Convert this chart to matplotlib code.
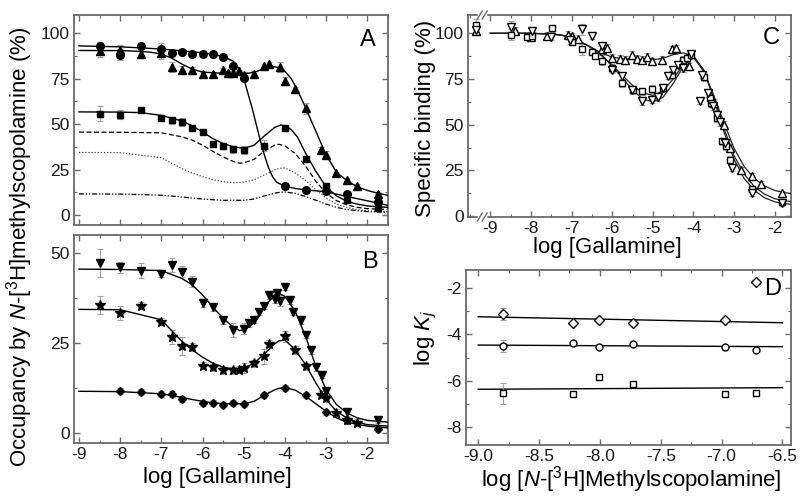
import matplotlib
matplotlib.use('Agg')
import matplotlib.pyplot as plt
import matplotlib.transforms as mtransforms
from matplotlib.ticker import MultipleLocator, FormatStrFormatter

plt.rcParams['font.family'] = ['Liberation Sans', 'DejaVu Sans']
plt.rcParams['mathtext.fontset'] = 'custom'
plt.rcParams['mathtext.rm'] = 'Liberation Sans'
plt.rcParams['mathtext.it'] = 'Liberation Sans:italic'
plt.rcParams['axes.unicode_minus'] = False

# ---------------- panel A: markers ----------------
a_circ_x = [-8.5, -8, -7.5, -7, -6.75, -6.5, -6.25, -6, -5.75, -5.5, -5.25, -5, -4, -3.5, -3, -2.5, -1.75]
a_circ_y = [92.9, 88.1, 92.9, 91.4, 89.0, 89.4, 88.3, 88.7, 88.3, 86.8, 81.9, 75.5, 15.9, 13.7, 13.4, 11.4, 7.3]
a_circ_e = [2, 3, 1.5, 3, 1.5, 1, 1, 1, 1, 1, 1.5, 2, 1.5, 1.5, 2, 1, 1]

a_tri_x = [-8.5, -8, -7.5, -7, -6.75, -6.5, -6.25, -6, -5.75, -5.5, -5.38, -5.25, -5.12, -5, -4.75,
           -4.5, -4.38, -4.12, -4, -3.75, -3.5, -3.12, -3, -2.75, -2.5, -2.25, -1.75]
a_tri_y = [90.1, 90.5, 88.3, 89.0, 81.4, 80.0, 79.5, 77.7, 77.7, 79.5, 78.2, 78.0, 79.0, 76.8, 77.3,
           81.9, 83.2, 81.4, 73.7, 69.1, 58.6, 35.7, 33.0, 22.9, 19.2, 15.9, 11.5]
a_tri_e = [3, 3, 2, 3, 3, 2, 2, 1, 1, 1.5, 1, 1, 1, 2, 2, 1, 1, 2.5, 2, 1.5, 3, 1.5, 2, 1, 1, 1, 1]

a_sq_x = [-8.5, -8, -7.5, -7, -6.75, -6.5, -6.25, -6, -5.75, -5.5, -5.25, -5, -4.5, -4, -3.5, -3, -2.5, -1.75]
a_sq_y = [55.8, 55.2, 58.0, 53.6, 52.1, 51.2, 47.9, 45.7, 38.9, 38.0, 36.1, 35.7, 38.1, 47.6, 30.6, 15.9, 8.2, 3.7]
a_sq_e = [4, 2.5, 1, 1, 2, 2, 1, 1, 1, 1.5, 2, 2, 3, 1, 1.5, 1.5, 1, 1]

# ---------------- panel A: fitted curves ----------------
a_circ_fit_x = [-9, -8, -7, -6.5, -6, -5.75, -5.5, -5.25, -5.1, -5, -4.9, -4.8, -4.7, -4.6, -4.5, -4.4,
                -4.3, -4.2, -4, -3.75, -3.5, -3, -2.5, -2, -1.5]
a_circ_fit_y = [93, 92.5, 91.3, 90.3, 89.2, 88.4, 87.2, 84.5, 80, 75, 67, 59, 50, 41, 33, 26,
                21, 18, 15.8, 14.6, 13.8, 12.8, 10.2, 7.8, 5.3]

a_tri_fit_x = [-9, -8, -7.5, -7.25, -7, -6.75, -6.5, -6.25, -6, -5.5, -5, -4.75, -4.5, -4.25, -4.1, -4,
               -3.85, -3.75, -3.6, -3.5, -3.25, -3, -2.75, -2.5, -2.25, -2, -1.75, -1.5]
a_tri_fit_y = [90.5, 90.4, 90, 89.5, 88.5, 86.3, 83, 80.2, 78.6, 77.9, 77.6, 78.5, 80.5, 81.5, 80.8, 79,
               75, 71, 64, 59, 46, 33, 23.5, 19, 15.5, 13.5, 12, 10.8]

a_sq_fit_x = [-9, -8, -7.5, -7, -6.5, -6.25, -6, -5.75, -5.5, -5.25, -5, -4.75, -4.5, -4.25, -4.1, -4,
              -3.85, -3.7, -3.5, -3.25, -3, -2.75, -2.5, -2.25, -2, -1.75, -1.5]
a_sq_fit_y = [56.7, 56.6, 56.3, 54.8, 51.7, 49, 45.7, 42, 39.3, 37.5, 36.6, 38.4, 43.5, 48.2, 49.5, 49,
              47, 43, 34, 24, 15.5, 10.5, 7.5, 6, 5, 4.5, 4.2]

# ---------------- panel B: markers ----------------
b_dtri_x = [-8.5, -8, -7.5, -7, -6.75, -6.5, -6.25, -6, -5.75, -5.5, -5.25, -5, -4.87, -4.75, -4.62,
            -4.5, -4.38, -4.25, -4.19, -4.12, -4, -3.88, -3.8, -3.62, -3.5, -3.38, -3.25, -3.1, -3, -2.5, -1.75]
b_dtri_y = [47.2, 46.1, 45.2, 44.3, 46.8, 44.9, 42.1, 36.1, 35.0, 31.3, 28.7, 29.0, 30.6, 31.5, 33.8,
            35.4, 38.4, 37.2, 38.9, 36.8, 40.7, 36.9, 33.8, 31.3, 27.3, 23.1, 18.3, 16.2, 11.6, 5.7, 3.7]
b_dtri_e = [3.9, 1.5, 2, 1, 2, 1.5, 1.5, 1, 1, 1, 2, 1.5, 1, 1, 1,
            1, 1, 1, 1, 1.5, 1, 1, 1, 1, 1, 1, 1, 1, 1, 1, 1]

b_star_x = [-8.5, -8, -7.5, -7, -6.75, -6.5, -6.25, -6, -5.75, -5.5, -5.25, -5.12, -5, -4.75, -4.5,
            -4.38, -4, -3.75, -3.5, -3.12, -3, -2.75, -2.5, -2.25]
b_star_y = [35.6, 33.3, 35.4, 31.0, 26.7, 24.1, 23.9, 18.7, 18.3, 17.4, 17.4, 17.6, 18.1, 19.4, 21.3,
            24.8, 26.9, 23.1, 18.5, 10.6, 9.7, 5.6, 3.5, 2.8]
b_star_e = [2.5, 2, 1, 1, 2, 2.5, 1, 1, 1, 1, 1, 1, 1.5, 1, 2, 1, 1.5, 1, 1, 1, 1, 1, 1, 1]

b_diam_x = [-8, -7.5, -7, -6.75, -6.5, -6, -5.75, -5.5, -5.25, -5, -4.5, -4, -3.5, -3, -2.5, -1.75]
b_diam_y = [11.6, 11.4, 10.9, 10.8, 9.4, 8.3, 8.3, 7.9, 8.3, 8.1, 10.5, 12.5, 10.5, 5.7, 3.5, 1.2]
b_diam_e = [0.8, 0.8, 0.8, 0.8, 0.8, 0.8, 0.8, 0.8, 0.8, 0.8, 0.8, 0.8, 0.8, 0.8, 0.8, 0.8]

# ---------------- panel B: fitted curves (also drawn in A) ----------------
b_fit_x = [-9, -8, -7, -6.5, -6.25, -6, -5.75, -5.5, -5.25, -5.1, -5, -4.75, -4.5, -4.25, -4.15, -4,
           -3.75, -3.5, -3.25, -3, -2.75, -2.5, -2.25, -2, -1.5]
b_dtri_fit = [45.6, 45.5, 45.2, 43, 41.2, 38.4, 35, 31.9, 29.4, 28.5, 28.7, 30.6, 35.2, 38.4, 38.9, 38,
              33.8, 26.9, 18.5, 12, 7.9, 5.6, 4.2, 3.5, 3.0]
b_star_fit = [34.4, 34.3, 31.5, 25.5, 23.1, 21.1, 19.4, 18.3, 17.8, 17.9, 18.1, 19.4, 22, 24.8, 25.6, 25.9,
              23.1, 19, 13.9, 9.3, 6, 4.2, 3, 2.3, 1.9]
b_diam_fit = [11.6, 11.5, 10.9, 9.9, 9.3, 8.8, 8.4, 8.1, 8.1, 8.1, 8.1, 8.8, 10.5, 12, 12.4, 12.7,
              11.9, 10.2, 8.1, 6, 4.2, 3, 2.4, 1.9, 1.4]

# ---------------- panel C ----------------
c_utri_x = [-9.35, -8.4, -8.0, -7.6, -7.1, -7.0, -6.85, -6.25, -6.12, -6.0, -5.8, -5.68, -5.52, -5.4,
            -5.27, -5.15, -5.02, -4.78, -4.54, -4.42, -4.1, -3.5, -3.25, -3.1, -2.82, -2.57, -2.33, -1.83]
c_utri_y = [101.5, 101.5, 98.0, 98.6, 99.1, 98.3, 97.0, 91.3, 92.0, 86.4, 85.9, 85.3, 88.2, 86.0,
            85.3, 87.1, 84.6, 85.5, 91.6, 92.0, 82.0, 62.0, 50.0, 37.3, 25.1, 21.8, 17.8, 12.4]
c_utri_e = [2, 2, 2, 2, 2, 2, 2, 3, 2, 2, 2, 2, 2, 2, 2, 2, 2, 2, 1.5, 1.5, 2, 2, 2, 2, 1.5, 1.5, 1.5, 1.5]

c_sq_x = [-9.35, -8.5, -8.1, -7.98, -7.48, -7.0, -6.75, -6.5, -6.42, -6.26, -6.0, -5.75, -5.5, -5.27,
          -5.03, -4.74, -4.54, -4.25, -4.17, -4.05, -3.75, -3.6, -3.56, -3.43, -3.31, -3.2, -3.1, -2.57, -1.83]
c_sq_y = [104.6, 99.1, 98.2, 98.5, 102.8, 95.5, 91.3, 90.0, 87.7, 84.6, 81.0, 72.8, 69.0, 68.2,
          69.5, 70.0, 77.3, 85.5, 86.4, 88.2, 76.0, 64.6, 61.8, 53.6, 40.9, 38.2, 30.9, 14.6, 7.6]
c_sq_e = [3, 3, 2, 2, 2, 2, 3, 2, 2, 2, 2, 2, 2, 2, 2, 2, 2, 2, 2, 1.5, 2, 2, 2, 2, 2, 2, 2, 1.5, 1.5]

c_dtri_x = [-9.35, -8.5, -7.98, -7.5, -7.03, -6.75, -6.5, -6.26, -6.0, -5.75, -5.52, -5.27, -5.02, -4.87,
            -4.75, -4.63, -4.5, -4.38, -4.27, -4.05, -3.84, -3.8, -3.64, -3.52, -3.43, -3.35, -3.23, -3.05, -2.57, -1.83]
c_dtri_y = [102.0, 103.7, 101.5, 98.2, 96.4, 102.2, 98.6, 92.8, 80.0, 76.5, 69.1, 62.7, 63.7, 65.1,
            70.0, 76.8, 80.0, 82.8, 81.0, 88.9, 62.7, 77.3, 67.3, 60.0, 55.5, 51.3, 40.0, 26.4, 12.4, 7.0]
c_dtri_e = [2, 3, 2, 2, 2, 3, 2, 2, 2, 2, 2, 2, 2, 2, 2, 2, 2, 2, 2, 1.5, 1.5, 1.5, 2, 2, 2, 2, 2, 2, 1.5, 1.5]

c_fit_x = [-9, -8, -7.5, -7.25, -7, -6.75, -6.5, -6.25, -6, -5.75, -5.5, -5.25, -5, -4.75, -4.5, -4.25,
           -4, -3.75, -3.5, -3.25, -3, -2.75, -2.5, -2.25, -2, -1.75, -1.6]
c_utri_fit = [100, 100, 99.7, 99, 97.5, 95, 92, 89, 87, 86, 85.7, 85.5, 85.5, 86.3, 88.3, 89.3,
              87.5, 79, 66, 51, 37, 27, 20.5, 16.5, 14, 12.8, 12.3]
c_sq_fit = [100, 100, 99.5, 99, 97.5, 95, 92, 87.5, 82.5, 77, 71.5, 67.5, 66, 68.5, 75, 83,
            86.5, 80, 65, 48, 33, 23, 16, 12, 9.5, 8.3, 8]
c_dtri_fit = [100, 100, 99.5, 99, 97.5, 95, 92, 88, 82, 75.5, 69, 64, 62.5, 65, 72.5, 82,
              87.5, 80, 64, 46, 31, 20.5, 14, 10, 7.8, 6.8, 6.5]

# ---------------- panel D ----------------
d_x = [-8.8, -8.22, -8.01, -7.73, -6.97, -6.72]
d_diam = [-3.11, -3.49, -3.37, -3.49, -3.35, -1.74]
d_diam_e = [0.25, 0.06, 0.06, 0.06, 0.06, 0.0]
d_circ = [-4.50, -4.39, -4.56, -4.42, -4.56, -4.68]
d_circ_e = [0.25, 0.05, 0.05, 0.05, 0.05, 0.05]
d_sq = [-6.55, -6.58, -5.83, -6.16, -6.58, -6.53]
d_sq_e = [0.45, 0.05, 0.05, 0.05, 0.05, 0.05]
d_fit_x = [-9.0, -6.5]
d_diam_fit = [-3.23, -3.49]
d_circ_fit = [-4.46, -4.53]
d_sq_fit = [-6.38, -6.31]

W, H = 800, 501
fig = plt.figure(figsize=(W / 100, H / 100), dpi=100)


def box(l, t, r, b):
    return [l / W, 1 - b / H, (r - l) / W, (b - t) / H]


axA = fig.add_axes(box(74, 15, 388, 225))
axB = fig.add_axes(box(74, 235, 388, 443))
axC = fig.add_axes(box(468, 15, 791, 217))
axD = fig.add_axes(box(466, 270, 791, 445))

spc = '#6a6a6a'


def style(ax):
    for s in ax.spines.values():
        s.set_color(spc)
        s.set_linewidth(1.3)
    ax.tick_params(which='both', direction='in', top=True, right=True, color=spc,
                   labelsize=12.5, labelcolor='#1a1a1a', pad=3)
    ax.tick_params(which='major', length=4, width=1)
    ax.tick_params(which='minor', length=2.5, width=0.8)


def points(ax, x, y, e, m, ms, fc='black'):
    ax.errorbar(x, y, yerr=e, fmt='none', ecolor='#a0a0a0', elinewidth=0.8,
                capsize=2.5, capthick=0.8, zorder=2)
    ax.plot(x, y, ls='none', marker=m, ms=ms, mfc=fc, mec='black', mew=1.0, zorder=4)


# panel A
axA.plot(a_circ_fit_x, a_circ_fit_y, color='black', lw=1.0, zorder=3)
axA.plot(a_tri_fit_x, a_tri_fit_y, color='black', lw=1.0, zorder=3)
axA.plot(a_sq_fit_x, a_sq_fit_y, color='black', lw=1.0, zorder=3)
axA.plot(b_fit_x, b_dtri_fit, color='black', lw=0.9, ls=(0, (4, 2)))
axA.plot(b_fit_x, b_star_fit, color='#444444', lw=0.9, ls=(0, (1, 1.5)))
axA.plot(b_fit_x, b_diam_fit, color='black', lw=0.9, ls=(0, (4, 1.5, 1, 1.5, 1, 1.5)))
points(axA, a_circ_x, a_circ_y, a_circ_e, 'o', 5.5)
points(axA, a_tri_x, a_tri_y, a_tri_e, '^', 6)
points(axA, a_sq_x, a_sq_y, a_sq_e, 's', 5)
axA.set_xlim(-9.12, -1.5)
axA.set_ylim(-5.5, 110)
axA.yaxis.set_major_locator(MultipleLocator(25))
axA.yaxis.set_minor_locator(MultipleLocator(12.5))
axA.xaxis.set_major_locator(MultipleLocator(1))
axA.xaxis.set_minor_locator(MultipleLocator(0.5))
style(axA)
axA.tick_params(labelbottom=False)
axA.text(0.936, 0.88, 'A', transform=axA.transAxes, fontsize=17, ha='center', va='center')

# panel B
axB.plot(b_fit_x, b_dtri_fit, color='black', lw=1.0, zorder=3)
axB.plot(b_fit_x, b_star_fit, color='black', lw=1.0, zorder=3)
axB.plot(b_fit_x, b_diam_fit, color='black', lw=1.0, zorder=3)
points(axB, b_dtri_x, b_dtri_y, b_dtri_e, 'v', 6)
points(axB, b_star_x, b_star_y, b_star_e, '*', 7)
points(axB, b_diam_x, b_diam_y, b_diam_e, 'D', 4.5)
axB.set_xlim(-9.12, -1.5)
axB.set_ylim(-2.8, 55.1)
axB.yaxis.set_major_locator(MultipleLocator(25))
axB.yaxis.set_minor_locator(MultipleLocator(12.5))
axB.xaxis.set_major_locator(MultipleLocator(1))
axB.xaxis.set_minor_locator(MultipleLocator(0.5))
style(axB)
axB.text(0.943, 0.87, 'B', transform=axB.transAxes, fontsize=17, ha='center', va='center')

# panel C
axC.plot(c_fit_x, c_utri_fit, color='#222222', lw=0.9, zorder=3)
axC.plot(c_fit_x, c_sq_fit, color='#222222', lw=0.9, zorder=3)
axC.plot(c_fit_x, c_dtri_fit, color='#222222', lw=0.9, zorder=3)
points(axC, c_utri_x, c_utri_y, c_utri_e, '^', 6, fc='white')
points(axC, c_sq_x, c_sq_y, c_sq_e, 's', 5, fc='white')
points(axC, c_dtri_x, c_dtri_y, c_dtri_e, 'v', 6, fc='white')
axC.set_xlim(-9.55, -1.6)
axC.set_ylim(-0.5, 110)
axC.yaxis.set_major_locator(MultipleLocator(25))
axC.yaxis.set_minor_locator(MultipleLocator(12.5))
axC.xaxis.set_major_locator(MultipleLocator(1))
axC.xaxis.set_minor_locator(MultipleLocator(0.5))
style(axC)
axC.text(0.94, 0.885, 'C', transform=axC.transAxes, fontsize=17, ha='center', va='center')
# axis break marks on the top and bottom spines
trans = mtransforms.blended_transform_factory(axC.transData, axC.transAxes)
for yb in (0.0, 1.0):
    axC.plot([-9.27, -9.13], [yb, yb], color='white', lw=2.5, transform=trans, clip_on=False, zorder=5)
    for xb in (-9.27, -9.15):
        axC.plot([xb - 0.05, xb + 0.07], [yb - 0.02, yb + 0.02], color=spc, lw=1.0,
                 transform=trans, clip_on=False, zorder=6)

# panel D
axD.plot(d_fit_x, d_diam_fit, color='black', lw=1.0)
axD.plot(d_fit_x, d_circ_fit, color='black', lw=1.0)
axD.plot(d_fit_x, d_sq_fit, color='black', lw=1.0)
points(axD, d_x, d_diam, d_diam_e, 'D', 5, fc='white')
points(axD, d_x, d_circ, d_circ_e, 'o', 5, fc='white')
points(axD, d_x, d_sq, d_sq_e, 's', 5, fc='white')
axD.set_xlim(-9.1, -6.43)
axD.set_ylim(-8.8, -1.2)
axD.xaxis.set_major_locator(MultipleLocator(0.5))
axD.xaxis.set_minor_locator(MultipleLocator(0.25))
axD.xaxis.set_major_formatter(FormatStrFormatter('%.1f'))
axD.yaxis.set_major_locator(MultipleLocator(2))
axD.yaxis.set_minor_locator(MultipleLocator(1))
style(axD)
axD.text(0.945, 0.89, 'D', transform=axD.transAxes, fontsize=17, ha='center', va='center')

# axis titles
lab = 16
fig.text(20 / W, 1 - 247 / H, r'Occupancy by $\mathit{N}$-[$^{3}$H]methylscopolamine (%)',
         rotation=90, ha='center', va='center', fontsize=lab)
fig.text(217 / W, 1 - 478 / H, 'log [Gallamine]', ha='center', va='center', fontsize=lab)
fig.text(425 / W, 1 - 118 / H, 'Specific binding (%)', rotation=90, ha='center', va='center', fontsize=lab)
fig.text(607 / W, 1 - 247 / H, 'log [Gallamine]', ha='center', va='center', fontsize=lab)
fig.text(426 / W, 1 - 338 / H, r'log $\mathit{K}_{j}$', rotation=90, ha='center', va='center', fontsize=lab)
fig.text(631 / W, 1 - 480 / H, r'log [$\mathit{N}$-[$^{3}$H]Methylscopolamine]',
         ha='center', va='center', fontsize=lab)

fig.savefig('out.png', dpi=100)
